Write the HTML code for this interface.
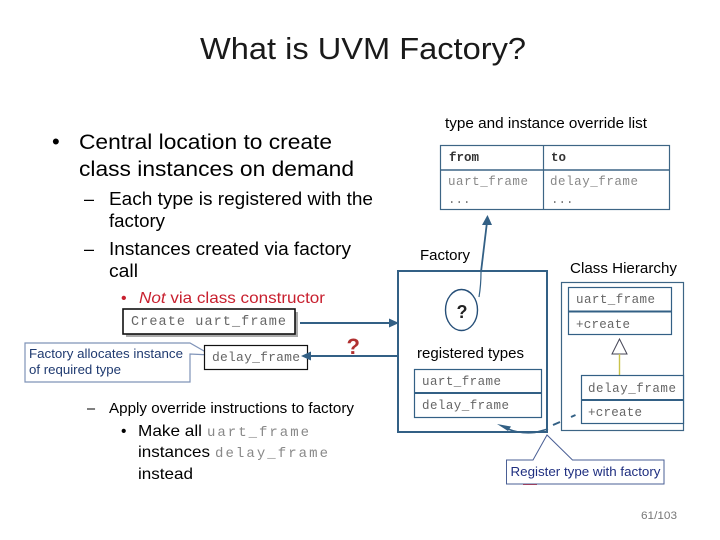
<!DOCTYPE html>
<html><head><meta charset="utf-8"><style>
html,body{margin:0;padding:0;background:#fff}
svg{display:block}
text{font-family:"Liberation Sans",sans-serif;fill:#000}
.m{font-family:"Liberation Mono",monospace;fill:#666;font-size:13px}
</style></head><body>
<svg width="720" height="540" viewBox="0 0 720 540" xmlns="http://www.w3.org/2000/svg">
<defs><filter id="b" x="0" y="0" width="100%" height="100%" filterUnits="userSpaceOnUse" primitiveUnits="userSpaceOnUse"><feGaussianBlur stdDeviation="0.3"/></filter></defs>
<rect width="720" height="540" fill="#fff"/>
<text x="200" y="59" font-size="31" textLength="326" lengthAdjust="spacingAndGlyphs" style="fill:#1a1a1a">What is UVM Factory?</text>

<g style="filter:blur(0.3px)">
<!-- left bullets -->
<text x="52" y="149" font-size="22">•</text>
<text x="79" y="149" font-size="21.5" textLength="253" lengthAdjust="spacingAndGlyphs">Central location to create</text>
<text x="79" y="176" font-size="21.5" textLength="275" lengthAdjust="spacingAndGlyphs">class instances on demand</text>
<text x="84" y="205" font-size="18">–</text>
<text x="109" y="205" font-size="18" textLength="264" lengthAdjust="spacingAndGlyphs">Each type is registered with the</text>
<text x="109" y="227" font-size="18" textLength="56" lengthAdjust="spacingAndGlyphs">factory</text>
<text x="84" y="255" font-size="18">–</text>
<text x="109" y="255" font-size="18" textLength="242" lengthAdjust="spacingAndGlyphs">Instances created via factory</text>
<text x="109" y="277" font-size="18" textLength="29" lengthAdjust="spacingAndGlyphs">call</text>
<text x="121" y="303" font-size="16" style="fill:#c8202f">•</text>
<text x="139" y="303" font-size="16" textLength="186" lengthAdjust="spacingAndGlyphs" style="fill:#c8202f"><tspan font-style="italic" style="fill:#c8202f">Not</tspan> via class constructor</text>

<!-- Create box -->
<rect x="126" y="312" width="172" height="25" fill="#aaa"/>
<rect x="123" y="309" width="172" height="25" fill="#fff" stroke="#111" stroke-width="1.6"/>
<text class="m" x="131" y="325" textLength="155" style="font-size:13.5px">Create uart_frame</text>
<line x1="300" y1="323" x2="390" y2="323" stroke="#336085" stroke-width="2"/>
<polygon points="399,323 389,318.5 389,327.5" fill="#336085"/>

<!-- callout -->
<path d="M25 343H190L211 355L190 354V382H25Z" fill="#fff" stroke="#7f93b8" stroke-width="1.2"/>
<text x="29" y="358" font-size="12.6" textLength="154" lengthAdjust="spacingAndGlyphs" style="fill:#1f3a70">Factory allocates instance</text>
<text x="29" y="374" font-size="12.6" textLength="92" lengthAdjust="spacingAndGlyphs" style="fill:#1f3a70">of required type</text>
<rect x="204.500" y="345.500" width="103" height="24" fill="#fff" stroke="#111" stroke-width="1.2"/>
<text class="m" x="212" y="361" textLength="88">delay_frame</text>
<line x1="310" y1="356" x2="398" y2="356" stroke="#336085" stroke-width="2"/>
<polygon points="301,356 311,351.500 311,360.500" fill="#336085"/>
<text x="346.500" y="354" font-size="22" font-weight="bold" style="fill:#b03030">?</text>

<!-- lower bullets -->
<text x="87" y="413" font-size="14.500">–</text>
<text x="109" y="413" font-size="14.500" textLength="245" lengthAdjust="spacingAndGlyphs">Apply override instructions to factory</text>
<text x="121" y="436" font-size="15.500">•</text>
<text x="138" y="436" font-size="16" textLength="64" lengthAdjust="spacingAndGlyphs">Make all</text>
<text class="m" x="207" y="436" textLength="102" style="font-size:14px;fill:#888">uart_frame</text>
<text x="138" y="457" font-size="16" textLength="72" lengthAdjust="spacingAndGlyphs">instances</text>
<text class="m" x="215" y="457" textLength="113" style="font-size:14px;fill:#888">delay_frame</text>
<text x="138" y="479" font-size="16" textLength="55" lengthAdjust="spacingAndGlyphs">instead</text>

<!-- override table -->
<text x="445" y="128" font-size="14.500" textLength="202" lengthAdjust="spacingAndGlyphs">type and instance override list</text>
<rect x="440.500" y="145.500" width="229" height="64" fill="#fff" stroke="#3d6585" stroke-width="1.2"/>
<line x1="543.500" y1="145" x2="543.500" y2="209" stroke="#3d6585" stroke-width="1.2"/>
<line x1="440" y1="170" x2="670" y2="170" stroke="#3d6585" stroke-width="1.5"/>
<text class="m" x="449" y="161" font-weight="bold" style="font-size:12.500px;fill:#333">from</text>
<text class="m" x="551" y="161" font-weight="bold" style="font-size:12.500px;fill:#333">to</text>
<text class="m" x="448" y="185" textLength="80" style="font-size:12.500px;fill:#888">uart_frame</text>
<text class="m" x="550" y="185" textLength="88" style="font-size:12.500px;fill:#888">delay_frame</text>
<text class="m" x="448" y="203" style="font-size:12.500px;fill:#777">...</text>
<text class="m" x="551" y="203" style="font-size:12.500px;fill:#777">...</text>

<!-- arrow up -->
<path d="M479 297C481 285 481 278 481 272" fill="none" stroke="#336085" stroke-width="1.2"/>
<line x1="481" y1="272" x2="487" y2="222" stroke="#336085" stroke-width="1.8"/>
<polygon points="487.500,215 482,225 492,225" fill="#336085"/>
<text x="420" y="260" font-size="14.500" textLength="50" lengthAdjust="spacingAndGlyphs">Factory</text>

<!-- factory -->
<rect x="398" y="271" width="149" height="161" fill="none" stroke="#336085" stroke-width="2"/>
<ellipse cx="461.500" cy="310" rx="16" ry="20.500" fill="#fff" stroke="#264f78" stroke-width="1.4"/>
<text x="456.500" y="318" font-size="18" font-weight="bold" style="fill:#222">?</text>
<text x="417" y="358" font-size="14.500" textLength="107" lengthAdjust="spacingAndGlyphs">registered types</text>
<rect x="414.500" y="369.500" width="127" height="48" fill="#fff" stroke="#336085" stroke-width="1.2"/>
<line x1="414" y1="393" x2="542" y2="393" stroke="#336085" stroke-width="2"/>
<text class="m" x="422" y="385" textLength="79" style="font-size:12.500px">uart_frame</text>
<text class="m" x="422" y="409" textLength="87" style="font-size:12.500px">delay_frame</text>

<!-- class hierarchy -->
<text x="570" y="273" font-size="14.500" textLength="107" lengthAdjust="spacingAndGlyphs">Class Hierarchy</text>
<rect x="561.500" y="282.500" width="122" height="148" fill="#fff" stroke="#3d6585" stroke-width="1.2"/>
<rect x="568.500" y="287.500" width="103" height="47" fill="#fff" stroke="#336085" stroke-width="1.2"/>
<line x1="568" y1="311.500" x2="672" y2="311.500" stroke="#336085" stroke-width="2"/>
<text class="m" x="576" y="303" textLength="79" style="font-size:12.500px">uart_frame</text>
<text class="m" x="576" y="328" textLength="54" style="font-size:12.500px">+create</text>
<polygon points="619.500,339 612,354 627,354" fill="#fff" stroke="#445" stroke-width="1"/>
<line x1="619.500" y1="354" x2="619.500" y2="375" stroke="#c9c24a" stroke-width="1.400"/>
<rect x="581.500" y="375.500" width="102" height="48" fill="#fff" stroke="#336085" stroke-width="1.2"/>
<line x1="581" y1="400" x2="684" y2="400" stroke="#336085" stroke-width="2"/>
<text class="m" x="588" y="392" textLength="88" style="font-size:12.500px">delay_frame</text>
<text class="m" x="588" y="416" textLength="54" style="font-size:12.500px">+create</text>

<!-- register callout -->
<path d="M506.500 460H533L547 435L572.500 460H664V484H506.500Z" fill="#fff" stroke="#4a5f95" stroke-width="1"/>
<line x1="523" y1="484.500" x2="537" y2="484.500" stroke="#9a4060" stroke-width="1"/>
<text x="510.500" y="476" font-size="13" textLength="150" lengthAdjust="spacingAndGlyphs" style="fill:#1f2f80">Register type with factory</text>

<!-- dashed connector -->
<line x1="575.500" y1="415" x2="571" y2="417" stroke="#336085" stroke-width="2"/>
<line x1="560" y1="422" x2="553" y2="425" stroke="#336085" stroke-width="2"/>
<path d="M548 429L535 432.500Q520 434 508 429" fill="none" stroke="#336085" stroke-width="1.600"/>
<polygon points="497,424 511,426.500 508,431" fill="#336085"/>

<text x="641" y="519" font-size="11" textLength="36" lengthAdjust="spacingAndGlyphs" style="fill:#777">61/103</text>
</g>
</svg>
</body></html>
